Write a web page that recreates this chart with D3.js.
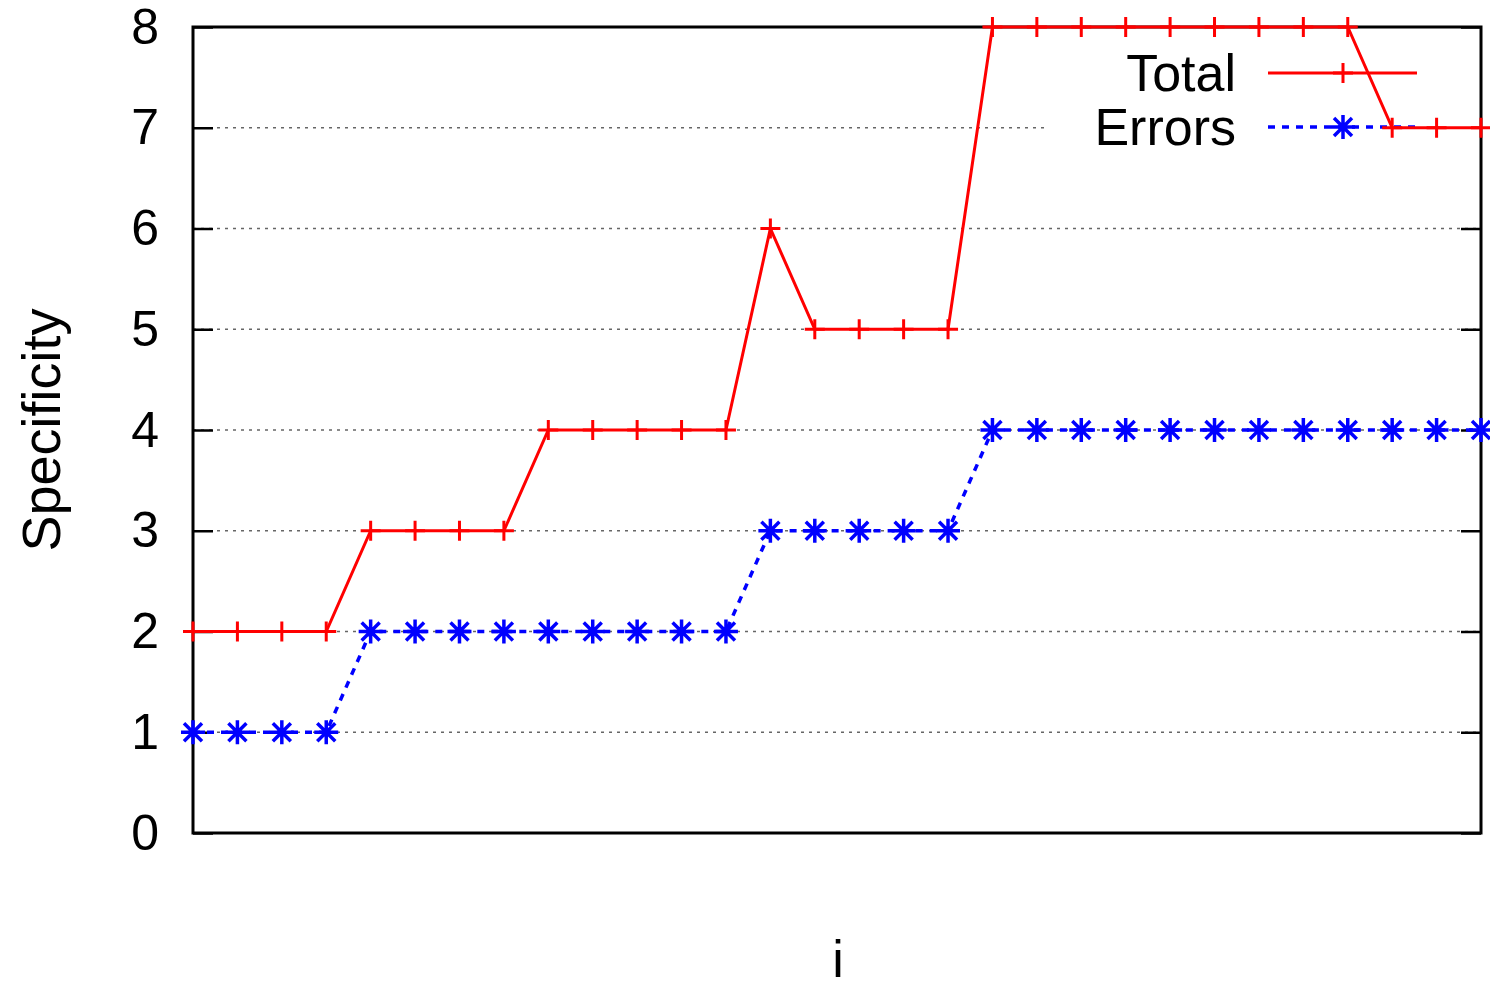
<!DOCTYPE html>
<html>
<head>
<meta charset="utf-8">
<script src="https://cdn.jsdelivr.net/npm/d3@7"></script>
<style>
  body { margin: 0; background: #fff; }
  text { font-family: "Liberation Sans", Arial, sans-serif; }
</style>
</head>
<body>
<svg id="chart" width="1490" height="988"></svg>
<script>
// data
const steps = d3.range(0, 30);
const totalValues = [2, 2, 2, 2, 3, 3, 3, 3, 4, 4, 4, 4, 4, 6, 5, 5, 5, 5, 8, 8, 8, 8, 8, 8, 8, 8, 8, 7, 7, 7];
const errorValues = [1, 1, 1, 1, 2, 2, 2, 2, 2, 2, 2, 2, 2, 3, 3, 3, 3, 3, 4, 4, 4, 4, 4, 4, 4, 4, 4, 4, 4, 4];
const yTicks = [0, 1, 2, 3, 4, 5, 6, 7, 8];
const seriesNames = ["Total", "Errors"];

const plotLeft = 193, plotRight = 1481, plotTop = 27, plotBottom = 833;

const svg = d3.select("#chart");

const xScale = d3.scaleLinear().domain([0, 29]).range([plotLeft, plotRight]);
const yScale = d3.scaleLinear().domain([0, 8]).range([plotBottom, plotTop]);

// grid
svg.append("g")
  .selectAll("line")
  .data(yTicks.filter(d => d > 0 && d < 8))
  .join("line")
    .attr("x1", plotLeft)
    .attr("x2", plotRight)
    .attr("y1", d => yScale(d))
    .attr("y2", d => yScale(d))
    .attr("stroke", "#666")
    .attr("stroke-width", 1.3)
    .attr("stroke-dasharray", "3,5");

// y axes, ticks pointing inward
const leftAxis = d3.axisLeft(yScale).tickValues(yTicks).tickSize(-20).tickPadding(34);
svg.append("g")
  .attr("class", "axis-y")
  .attr("transform", `translate(${plotLeft},0)`)
  .call(leftAxis);

const rightAxis = d3.axisRight(yScale).tickValues(yTicks).tickSize(-20).tickFormat("");
svg.append("g")
  .attr("class", "axis-y2")
  .attr("transform", `translate(${plotRight},0)`)
  .call(rightAxis);

svg.selectAll(".axis-y path, .axis-y2 path").remove();
svg.selectAll(".axis-y line, .axis-y2 line")
  .attr("stroke", "#000")
  .attr("stroke-width", 2.5);
svg.selectAll(".axis-y text")
  .attr("fill", "#000")
  .style("font-size", "50px")
  .style("font-family", "Liberation Sans, Arial, sans-serif");

// legend background hides the grid behind the key
svg.append("rect")
  .attr("x", 1045)
  .attr("y", 45)
  .attr("width", plotRight - 1045)
  .attr("height", 110)
  .attr("fill", "#fff");

// border
svg.append("rect")
  .attr("x", plotLeft)
  .attr("y", plotTop)
  .attr("width", plotRight - plotLeft)
  .attr("height", plotBottom - plotTop)
  .attr("fill", "none")
  .attr("stroke", "#000")
  .attr("stroke-width", 3);

// axis labels
svg.append("text")
  .attr("transform", `translate(60,430) rotate(-90)`)
  .attr("text-anchor", "middle")
  .style("font-size", "54px")
  .text("Specificity");

svg.append("text")
  .attr("x", 838)
  .attr("y", 977)
  .attr("text-anchor", "middle")
  .style("font-size", "52px")
  .text("i");

// marker helpers
const plusPath = (cx, cy) => {
  const s = 10;
  return `M${cx - s},${cy}H${cx + s}M${cx},${cy - s}V${cy + s}`;
};
const starPath = (cx, cy) => {
  const s = 12, d = 9;
  return `M${cx - s},${cy}H${cx + s}M${cx},${cy - s}V${cy + s}` +
    `M${cx - d},${cy - d}L${cx + d},${cy + d}M${cx - d},${cy + d}L${cx + d},${cy - d}`;
};

// legend
const legendY = [73, 127];
svg.append("g")
  .selectAll("text")
  .data(seriesNames)
  .join("text")
    .attr("x", 1236)
    .attr("y", (d, i) => legendY[i] + 18)
    .attr("text-anchor", "end")
    .style("font-size", "52px")
    .text(d => d);

svg.append("line")
  .attr("x1", 1268).attr("x2", 1417)
  .attr("y1", legendY[0]).attr("y2", legendY[0])
  .attr("stroke", "#f00").attr("stroke-width", 3);
svg.append("path")
  .attr("d", plusPath(1343, legendY[0]))
  .attr("stroke", "#f00").attr("stroke-width", 3);

svg.append("line")
  .attr("x1", 1268).attr("x2", 1417)
  .attr("y1", legendY[1]).attr("y2", legendY[1])
  .attr("stroke", "#00f").attr("stroke-width", 3.5)
  .attr("stroke-dasharray", "7,7");
svg.append("path")
  .attr("d", starPath(1343, legendY[1]))
  .attr("stroke", "#00f").attr("stroke-width", 3.5);

// series
const lineGenerator = d3.line()
  .x(d => xScale(d[0]))
  .y(d => yScale(d[1]));

const errorData = steps.map((s, i) => [s, errorValues[i]]);
const totalData = steps.map((s, i) => [s, totalValues[i]]);

svg.append("path")
  .attr("class", "errors-curve")
  .attr("d", lineGenerator(errorData))
  .attr("fill", "none")
  .attr("stroke", "#00f")
  .attr("stroke-width", 3.5)
  .attr("stroke-dasharray", "7,7");

svg.append("g")
  .selectAll("path")
  .data(errorData)
  .join("path")
    .attr("d", d => starPath(xScale(d[0]), yScale(d[1])))
    .attr("stroke", "#00f")
    .attr("stroke-width", 3.5);

svg.append("path")
  .attr("class", "total-curve")
  .attr("d", lineGenerator(totalData))
  .attr("fill", "none")
  .attr("stroke", "#f00")
  .attr("stroke-width", 3);

svg.append("g")
  .selectAll("path")
  .data(totalData)
  .join("path")
    .attr("d", d => plusPath(xScale(d[0]), yScale(d[1])))
    .attr("stroke", "#f00")
    .attr("stroke-width", 3);
</script>
</body>
</html>
